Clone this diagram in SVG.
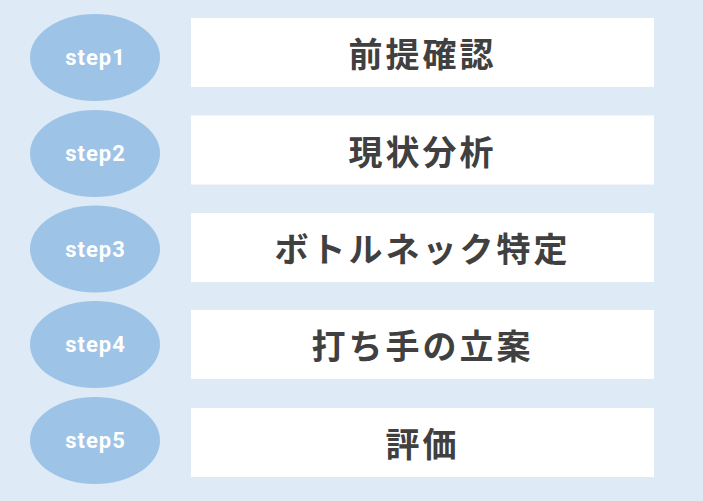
<svg xmlns="http://www.w3.org/2000/svg" width="703" height="501" viewBox="0 0 703 501">
<style>
.bg{fill:#DEEAF6}
.oval{fill:#9DC3E6}
.box{fill:#FFFFFF}
.st{font-family:Roboto,"Liberation Sans",sans-serif;font-weight:bold;font-size:22px;fill:#FFFFFF;text-anchor:middle;dominant-baseline:central;letter-spacing:1px}
.lb{font-family:"Noto Sans CJK JP","Noto Sans",sans-serif;font-weight:bold;font-size:34px;fill:#404040;text-anchor:middle;dominant-baseline:central;letter-spacing:3px}
</style>
<rect class="bg" x="0" y="0" width="703" height="501"/>
<g id="step1"><ellipse class="oval" cx="95" cy="57.5" rx="65" ry="43.5"/><text class="st" x="95.5" y="57.5">step1</text><rect class="box" x="191" y="18" width="463" height="69"/><text class="lb" x="422.5" y="52.5">前提確認</text></g>
<g id="step2"><ellipse class="oval" cx="95" cy="153.5" rx="65" ry="43.5"/><text class="st" x="95.5" y="153.5">step2</text><rect class="box" x="191" y="115.5" width="463" height="69"/><text class="lb" x="422.5" y="150">現状分析</text></g>
<g id="step3"><ellipse class="oval" cx="95" cy="249" rx="65" ry="43.5"/><text class="st" x="95.5" y="249">step3</text><rect class="box" x="191" y="213" width="463" height="69"/><text class="lb" x="422.5" y="247.5">ボトルネック特定</text></g>
<g id="step4"><ellipse class="oval" cx="95" cy="344.5" rx="65" ry="43.5"/><text class="st" x="95.5" y="344.5">step4</text><rect class="box" x="191" y="310" width="463" height="69"/><text class="lb" x="422.5" y="344.5">打ち手の立案</text></g>
<g id="step5"><ellipse class="oval" cx="95" cy="440.5" rx="65" ry="43.5"/><text class="st" x="95.5" y="440.5">step5</text><rect class="box" x="191" y="408" width="463" height="69"/><text class="lb" x="422.5" y="442.5">評価</text></g>
<g id="connectors"/>
</svg>
